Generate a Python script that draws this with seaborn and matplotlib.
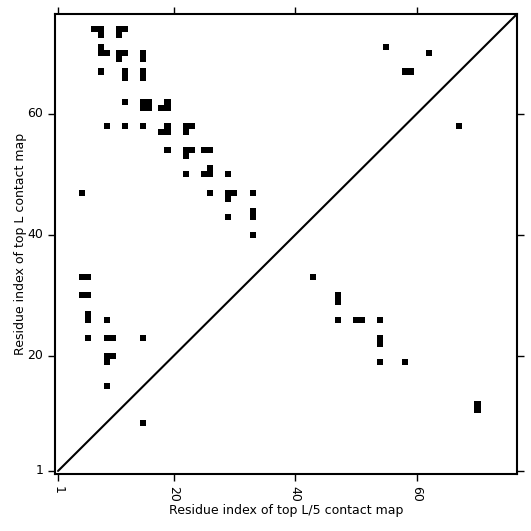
import numpy as np
import seaborn as sns
import matplotlib.pyplot as plt
from matplotlib.colors import ListedColormap

# Longueur de la séquence
L = 76

top_L_x = [7, 8, 8, 11, 12, 11,
           8, 8, 9, 11, 12, 11, 15, 15,
           8, 12, 12, 15, 15,
           12, 15, 16, 15, 16, 19, 19, 18,
           9, 12, 15, 19, 19, 18, 22, 23, 22,
           19, 22, 23, 22, 25, 26,
           26, 26, 25, 22, 29,
           26, 29, 30, 29, 33,
           29, 33, 33, 33,
           5,
           5, 6, 5, 6, 6, 6, 9,
           6, 9, 10, 15,
           9, 10, 9, 9, 15,
           55, 62, 58, 59]
top_L_y = [74, 74, 73, 74, 74, 73,
           71, 70, 70, 70, 70, 69, 70, 69,
           67, 67, 66, 67, 66,
           62, 62, 62, 61, 61, 62, 61, 61,
           58, 58, 58, 58, 57, 57, 58, 58, 57,
           54, 54, 54, 53, 54, 54,
           51, 50, 50, 50, 50,
           47, 47, 47, 46, 47,
           43, 44, 43, 40,
           47,
           33, 33, 30, 30, 27, 26, 26,
           23, 23, 23, 23,
           20, 20, 19, 15, 9,
           71, 70, 67, 67]

# Triangle inférieur (top L/5)
top_L5_x = [43, 47, 47, 47, 50, 51, 54, 54, 54, 54, 58, 70, 70, 67]
top_L5_y = [33, 30, 29, 26, 26, 26, 26, 23, 22, 19, 19, 12, 11, 58]

tick_res = [1, 20, 40, 60]

# Construction de la matrice de contacts
mat = np.zeros((L, L))
for xs, ys in [(top_L_x, top_L_y), (top_L5_x, top_L5_y)]:
    for i, j in zip(xs, ys):
        mat[j - 1, i - 1] = 1

sns.set_style("ticks")
plt.rcParams.update({"text.color": "black", "axes.labelcolor": "black",
                     "xtick.color": "black", "ytick.color": "black"})
fig = plt.figure(figsize=(5.31, 5.31), dpi=100)
ax = fig.add_axes([55 / 531, 57 / 531, 462 / 531, 460 / 531])

sns.heatmap(mat, cmap=ListedColormap(["white", "black"]), vmin=0, vmax=1,
            cbar=False, square=False, linewidths=0, ax=ax)
ax.set_xlim(0, L)
ax.set_ylim(0, L)

# Diagonale
ax.plot([0.5, L + 1], [0.5, L + 1], color="black", lw=1.5)

for s in ax.spines.values():
    s.set_visible(True)
    s.set_linewidth(1.5)
    s.set_color("black")

pos = [r - 0.5 for r in tick_res]
ax.set_xticks(pos)
ax.set_xticklabels([str(r) for r in tick_res], rotation=270, fontsize=9)
ax.set_yticks(pos)
ax.set_yticklabels([str(r) for r in tick_res], rotation=0, fontsize=9)
ax.tick_params(top=True, right=True, direction="out", length=5, width=1,
               colors="black", labeltop=False, labelright=False)

ax.set_xlabel("Residue index of top L/5 contact map", fontsize=9, labelpad=2)
ax.set_ylabel("Residue index of top L contact map", fontsize=9, labelpad=0)
ax.yaxis.set_label_coords(-0.06, 0.5)

fig.savefig("out.png", dpi=100)
